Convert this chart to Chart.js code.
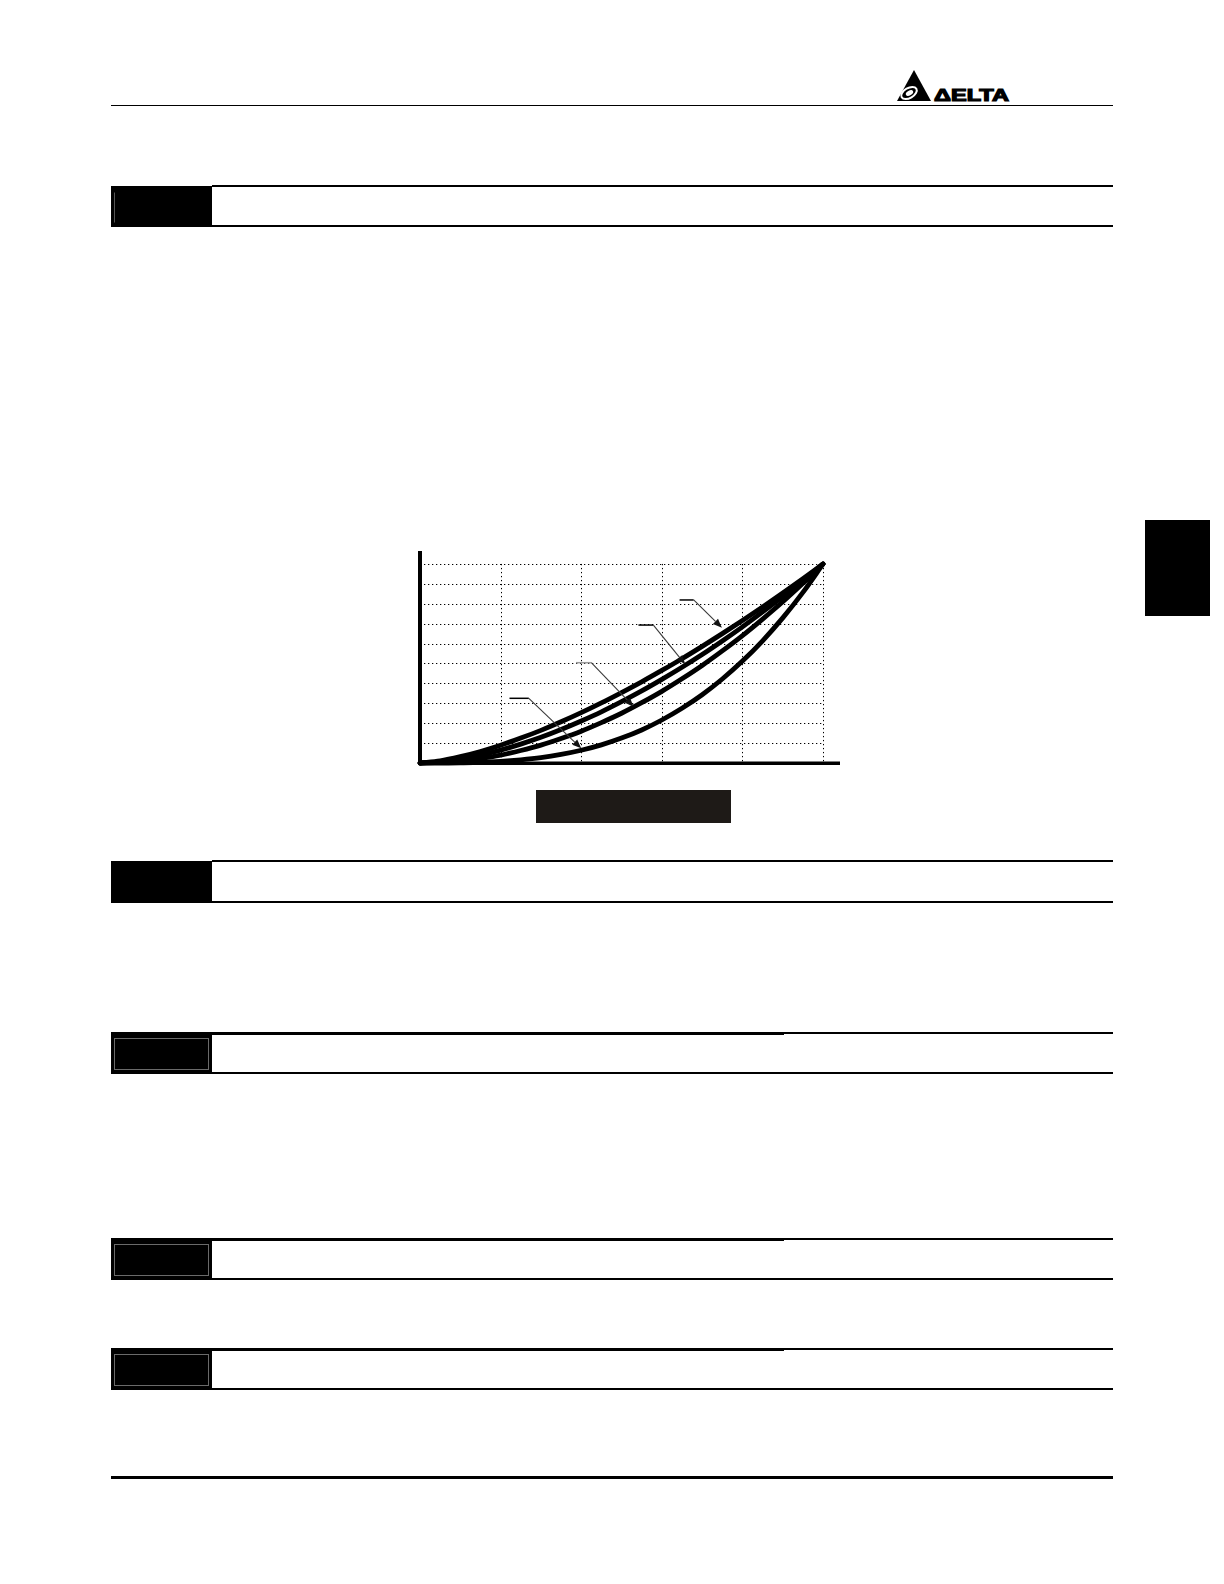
<!DOCTYPE html>
<html>
<head>
<meta charset="utf-8">
<script src="https://cdn.jsdelivr.net/npm/chart.js@4.4.1/dist/chart.umd.min.js"></script>
<style>
  html, body { margin: 0; padding: 0; background: #fff; }
  body { width: 1224px; height: 1584px; position: relative; overflow: hidden; font-family: "Liberation Sans", Arial, sans-serif; }
  .abs { position: absolute; }
  .hline { position: absolute; background: #000; }
  .box { position: absolute; background: #000; box-sizing: border-box; }
  .box .inner { position: absolute; left: 3px; right: 3px; top: 6px; bottom: 3px; border: 1px solid #6a6a6a; }
  #chartWrap { position: absolute; left: 400px; top: 531px; width: 460px; height: 252px; }
</style>
</head>
<body>

<!-- header -->
<svg class="abs" style="left:893px;top:66px" width="124" height="38" viewBox="0 0 124 38">
  <polygon points="4,35 21,4 38,35" fill="#000"/>
  <ellipse cx="16" cy="27" rx="8.5" ry="5" fill="none" stroke="#fff" stroke-width="2" transform="rotate(-30 16 27)"/>
  <ellipse cx="16.5" cy="27" rx="4" ry="2.4" fill="#fff" transform="rotate(-30 16.5 27)"/>
  <text x="41" y="35" font-family="Liberation Sans, Arial" font-weight="bold" font-size="17" textLength="75" lengthAdjust="spacingAndGlyphs" fill="#000" stroke="#000" stroke-width="1.2">ΔELTA</text>
</svg>
<div class="hline" style="left:111px;top:105px;width:1002px;height:1px;"></div>

<!-- section bar 1 -->
<div class="hline" style="left:212px;top:185px;width:901px;height:2px;"></div>
<div class="box" style="left:111px;top:186px;width:101px;height:40px;"><div class="inner" style="border-color:transparent;border-left-color:#555"></div></div>
<div class="hline" style="left:111px;top:225px;width:1002px;height:2px;"></div>

<!-- chart -->
<div id="chartWrap"><canvas id="c" width="460" height="252"></canvas></div>
<div class="box" style="left:536px;top:790px;width:195px;height:33px;background:#1e1a17"></div>

<!-- side tab -->
<div class="box" style="left:1145px;top:520px;width:65px;height:96px;"></div>

<!-- section bar 2 -->
<div class="hline" style="left:212px;top:860px;width:901px;height:2px;"></div>
<div class="box" style="left:111px;top:861px;width:101px;height:41px;"></div>
<div class="hline" style="left:111px;top:901px;width:1002px;height:2px;"></div>

<!-- section bar 3 -->
<div class="hline" style="left:212px;top:1032px;width:572px;height:3px;"></div>
<div class="hline" style="left:784px;top:1032px;width:329px;height:1.5px;"></div>
<div class="box" style="left:111px;top:1032px;width:101px;height:41px;"><div class="inner"></div></div>
<div class="hline" style="left:111px;top:1072px;width:1002px;height:2px;"></div>

<!-- section bar 4 -->
<div class="hline" style="left:212px;top:1238px;width:572px;height:3px;"></div>
<div class="hline" style="left:784px;top:1238px;width:329px;height:1.5px;"></div>
<div class="box" style="left:111px;top:1238px;width:101px;height:41px;"><div class="inner"></div></div>
<div class="hline" style="left:111px;top:1278px;width:1002px;height:2px;"></div>

<!-- section bar 5 -->
<div class="hline" style="left:212px;top:1348px;width:572px;height:3px;"></div>
<div class="hline" style="left:784px;top:1348px;width:329px;height:1.5px;"></div>
<div class="box" style="left:111px;top:1348px;width:101px;height:41px;"><div class="inner"></div></div>
<div class="hline" style="left:111px;top:1388px;width:1002px;height:2px;"></div>

<!-- footer -->
<div class="hline" style="left:111px;top:1476px;width:1002px;height:3px;"></div>

<script>
// ---- data (percent of rated frequency vs percent of output) ----
const xValues = [0,5,10,15,20,25,30,35,40,45,50,55,60,65,70,75,80,85,90,95,100];
const curve15 = [0,1.1,3.2,5.8,8.9,12.5,16.4,20.7,25.3,30.2,35.4,40.8,46.5,52.4,58.6,65.0,71.6,78.4,85.4,92.6,100];
const curve17 = [0,0.6,2.0,4.0,6.5,9.5,12.9,16.8,21.1,25.7,30.8,36.2,42.0,48.1,54.5,61.3,68.4,75.9,83.6,91.7,100];
const curve20 = [0,0.3,1.0,2.3,4.0,6.3,9.0,12.3,16.0,20.3,25.0,30.3,36.0,42.3,49.0,56.3,64.0,72.3,81.0,90.3,100];
const curve30 = [0,0.0,0.1,0.3,0.8,1.6,2.7,4.3,6.4,9.1,12.5,16.6,21.6,27.5,34.3,42.2,51.2,61.4,72.9,85.7,100];
const xGridValues = [20,40,60,80,100];
const yGridValues = [10,20,30,40,50,60,70,80,90,100];
// arrow annotations: [startX, startY, elbowX, tipX, tipY] in data units
const arrowStartX = [64.4, 54.2, 38.7, 22.2];
const arrowStartY = [81.9, 69.3, 50.4, 32.5];
const arrowElbowX = [67.9, 57.9, 42.5, 27.0];
const arrowTipX   = [74.9, 65.8, 53.0, 40.0];
const arrowTipY   = [68.0, 49.6, 28.3, 7.4];
const arrowBarColor = ['#000','#000','#9a9a9a','#000'];

const toPts = arr => arr.map((v,i) => ({x: xValues[i], y: v}));

const gridPlugin = {
  id: 'gridPlugin',
  beforeDatasetsDraw(chart) {
    const {ctx, scales:{x, y}} = chart;
    ctx.save();
    ctx.strokeStyle = '#000';
    ctx.lineWidth = 1;
    ctx.setLineDash([1.3, 2.7]);
    const x0 = x.getPixelForValue(0), x1 = x.getPixelForValue(100);
    const y0 = y.getPixelForValue(0), y1 = y.getPixelForValue(100);
    yGridValues.forEach(v => {
      const py = Math.round(y.getPixelForValue(v)) + 0.5;
      ctx.beginPath(); ctx.moveTo(x0, py); ctx.lineTo(x1, py); ctx.stroke();
    });
    xGridValues.forEach(v => {
      const px = Math.round(x.getPixelForValue(v)) + 0.5;
      ctx.beginPath(); ctx.moveTo(px, y1); ctx.lineTo(px, y0); ctx.stroke();
    });
    ctx.restore();
  },
  afterDatasetsDraw(chart) {
    const {ctx, chartArea, scales:{x, y}} = chart;
    ctx.save();
    // axes
    ctx.fillStyle = '#000';
    const ax = x.getPixelForValue(0), ay = y.getPixelForValue(0);
    ctx.fillRect(ax - 2, chartArea.top, 4, ay - chartArea.top + 2);
    ctx.fillRect(ax - 2, ay - 1.5, chartArea.right - ax + 2, 3.5);
    // arrows
    for (let i = 0; i < arrowStartX.length; i++) {
      const sx = x.getPixelForValue(arrowStartX[i]), sy = y.getPixelForValue(arrowStartY[i]);
      const ex = x.getPixelForValue(arrowElbowX[i]);
      const tx = x.getPixelForValue(arrowTipX[i]), ty = y.getPixelForValue(arrowTipY[i]);
      ctx.strokeStyle = arrowBarColor[i];
      ctx.lineWidth = 1.5;
      ctx.beginPath(); ctx.moveTo(sx, sy); ctx.lineTo(ex, sy); ctx.stroke();
      ctx.strokeStyle = '#3a3a3a';
      ctx.lineWidth = 1.1;
      const ang = Math.atan2(ty - sy, tx - ex);
      const L = 9, W = 3.6;
      const bx = tx - L * Math.cos(ang), by = ty - L * Math.sin(ang);
      ctx.beginPath(); ctx.moveTo(ex, sy); ctx.lineTo(bx, by); ctx.stroke();
      ctx.fillStyle = '#111';
      ctx.beginPath();
      ctx.moveTo(tx, ty);
      ctx.lineTo(bx + W * Math.sin(ang), by - W * Math.cos(ang));
      ctx.lineTo(bx - W * Math.sin(ang), by + W * Math.cos(ang));
      ctx.closePath(); ctx.fill();
    }
    ctx.restore();
  }
};

const lineDs = (data) => ({
  data: toPts(data),
  borderColor: '#000',
  borderWidth: 4.8,
  pointRadius: 0,
  fill: false,
  tension: 0.4,
  cubicInterpolationMode: 'monotone',
  borderCapStyle: 'round',
  borderJoinStyle: 'round',
  clip: false
});

new Chart(document.getElementById('c'), {
  type: 'line',
  data: { datasets: [lineDs(curve15), lineDs(curve17), lineDs(curve20), lineDs(curve30)] },
  options: {
    responsive: false,
    animation: false,
    layout: { padding: { left: 20, right: 20, top: 20, bottom: 20 } },
    plugins: { legend: { display: false }, tooltip: { enabled: false } },
    scales: {
      x: { type: 'linear', min: 0, max: 104.2, display: false },
      y: { type: 'linear', min: 0, max: 106.5, display: false }
    }
  },
  plugins: [gridPlugin]
});
</script>
</body>
</html>
